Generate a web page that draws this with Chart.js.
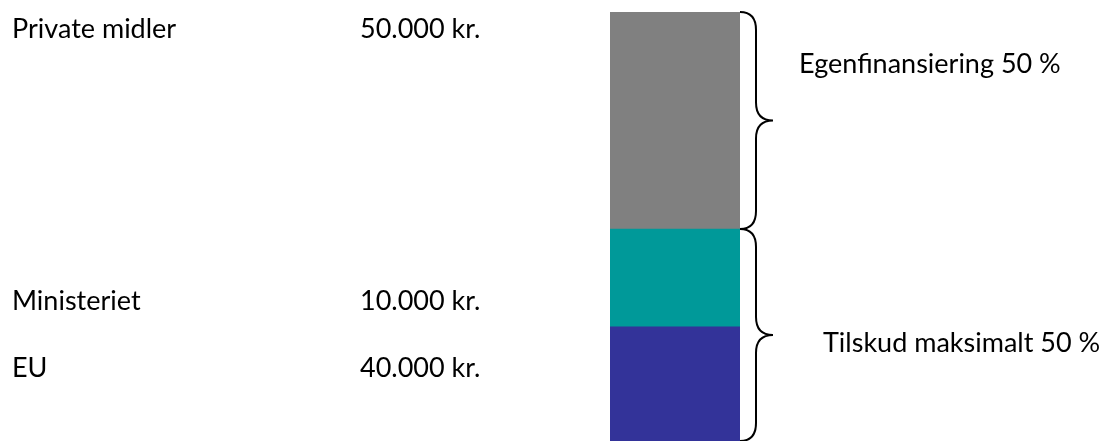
<!DOCTYPE html>
<html>
<head>
<meta charset="utf-8">
<script src="https://cdn.jsdelivr.net/npm/chart.js@4"></script>
<style>
  html, body { margin: 0; padding: 0; background: #fff; }
  #wrap { width: 1101px; height: 441px; position: relative; }
</style>
</head>
<body>
<div id="wrap"><canvas id="chart"></canvas></div>
<script>
  // segments, bottom to top
  var CATEGORIES = ['EU', 'Ministeriet', 'Private midler'];
  var AMOUNTS = ['40.000 kr.', '10.000 kr.', '50.000 kr.'];
  // share of the bar height as drawn (%)
  var SHARES = [26.6, 22.8, 50.6];
  var COLORS = ['#333399', '#009999', '#808080'];
  // braces: [first segment, last segment, text]
  var BRACES = [
    [0, 1, 'Tilskud maksimalt 50 %'],
    [2, 2, 'Egenfinansiering 50 %']
  ];

  var FONT = '27px Lato, "Open Sans", sans-serif';

  var textPlugin = {
    id: 'textPlugin',
    afterDraw: function(chart) {
      var ctx = chart.ctx;
      var y = chart.scales.y;
      var meta = chart.getDatasetMeta(0).data[0];
      var barRight = meta.x + meta.width / 2;

      ctx.save();
      ctx.fillStyle = '#000';
      ctx.font = FONT;
      ctx.textBaseline = 'alphabetic';
      ctx.textAlign = 'left';

      // left labels, top to bottom
      var rows = [38, 310, 377];
      for (var i = 0; i < 3; i++) {
        var idx = 2 - i;
        ctx.fillText(CATEGORIES[idx], 12, rows[i]);
        ctx.fillText(AMOUNTS[idx], 360, rows[i]);
      }

      // braces
      ctx.strokeStyle = '#000';
      ctx.lineWidth = 2;
      var textPos = [[823, 352], [799, 73]];
      BRACES.forEach(function(b, k) {
        var lo = 0, hi = 0;
        for (var j = 0; j <= b[1]; j++) {
          if (j < b[0]) lo += SHARES[j];
          hi += SHARES[j];
        }
        var y1 = y.getPixelForValue(hi);
        var y2 = y.getPixelForValue(lo);
        var mid = (y1 + y2) / 2;
        var x0 = barRight, xv = barRight + 16, xt = barRight + 33, r = 18;
        ctx.beginPath();
        ctx.moveTo(x0, y1);
        ctx.quadraticCurveTo(xv, y1, xv, y1 + r);
        ctx.lineTo(xv, mid - r);
        ctx.quadraticCurveTo(xv, mid, xt, mid);
        ctx.quadraticCurveTo(xv, mid, xv, mid + r);
        ctx.lineTo(xv, y2 - r);
        ctx.quadraticCurveTo(xv, y2, x0, y2);
        ctx.stroke();
        ctx.fillText(b[2], textPos[k][0], textPos[k][1]);
      });
      ctx.restore();
    }
  };

  var total = SHARES.reduce(function(a, b) { return a + b; }, 0);

  new Chart(document.getElementById('chart'), {
    type: 'bar',
    data: {
      labels: [''],
      datasets: CATEGORIES.map(function(c, i) {
        return {
          label: c,
          data: [SHARES[i]],
          backgroundColor: COLORS[i],
          borderWidth: 0,
          barPercentage: 1,
          categoryPercentage: 1
        };
      })
    },
    options: {
      responsive: true,
      maintainAspectRatio: false,
      animation: false,
      layout: { padding: { left: 610, right: 361, top: 12, bottom: 0 } },
      plugins: { legend: { display: false }, tooltip: { enabled: false } },
      scales: {
        x: { display: false, stacked: true },
        y: { display: false, stacked: true, min: 0, max: total }
      }
    },
    plugins: [textPlugin]
  });
</script>
</body>
</html>
